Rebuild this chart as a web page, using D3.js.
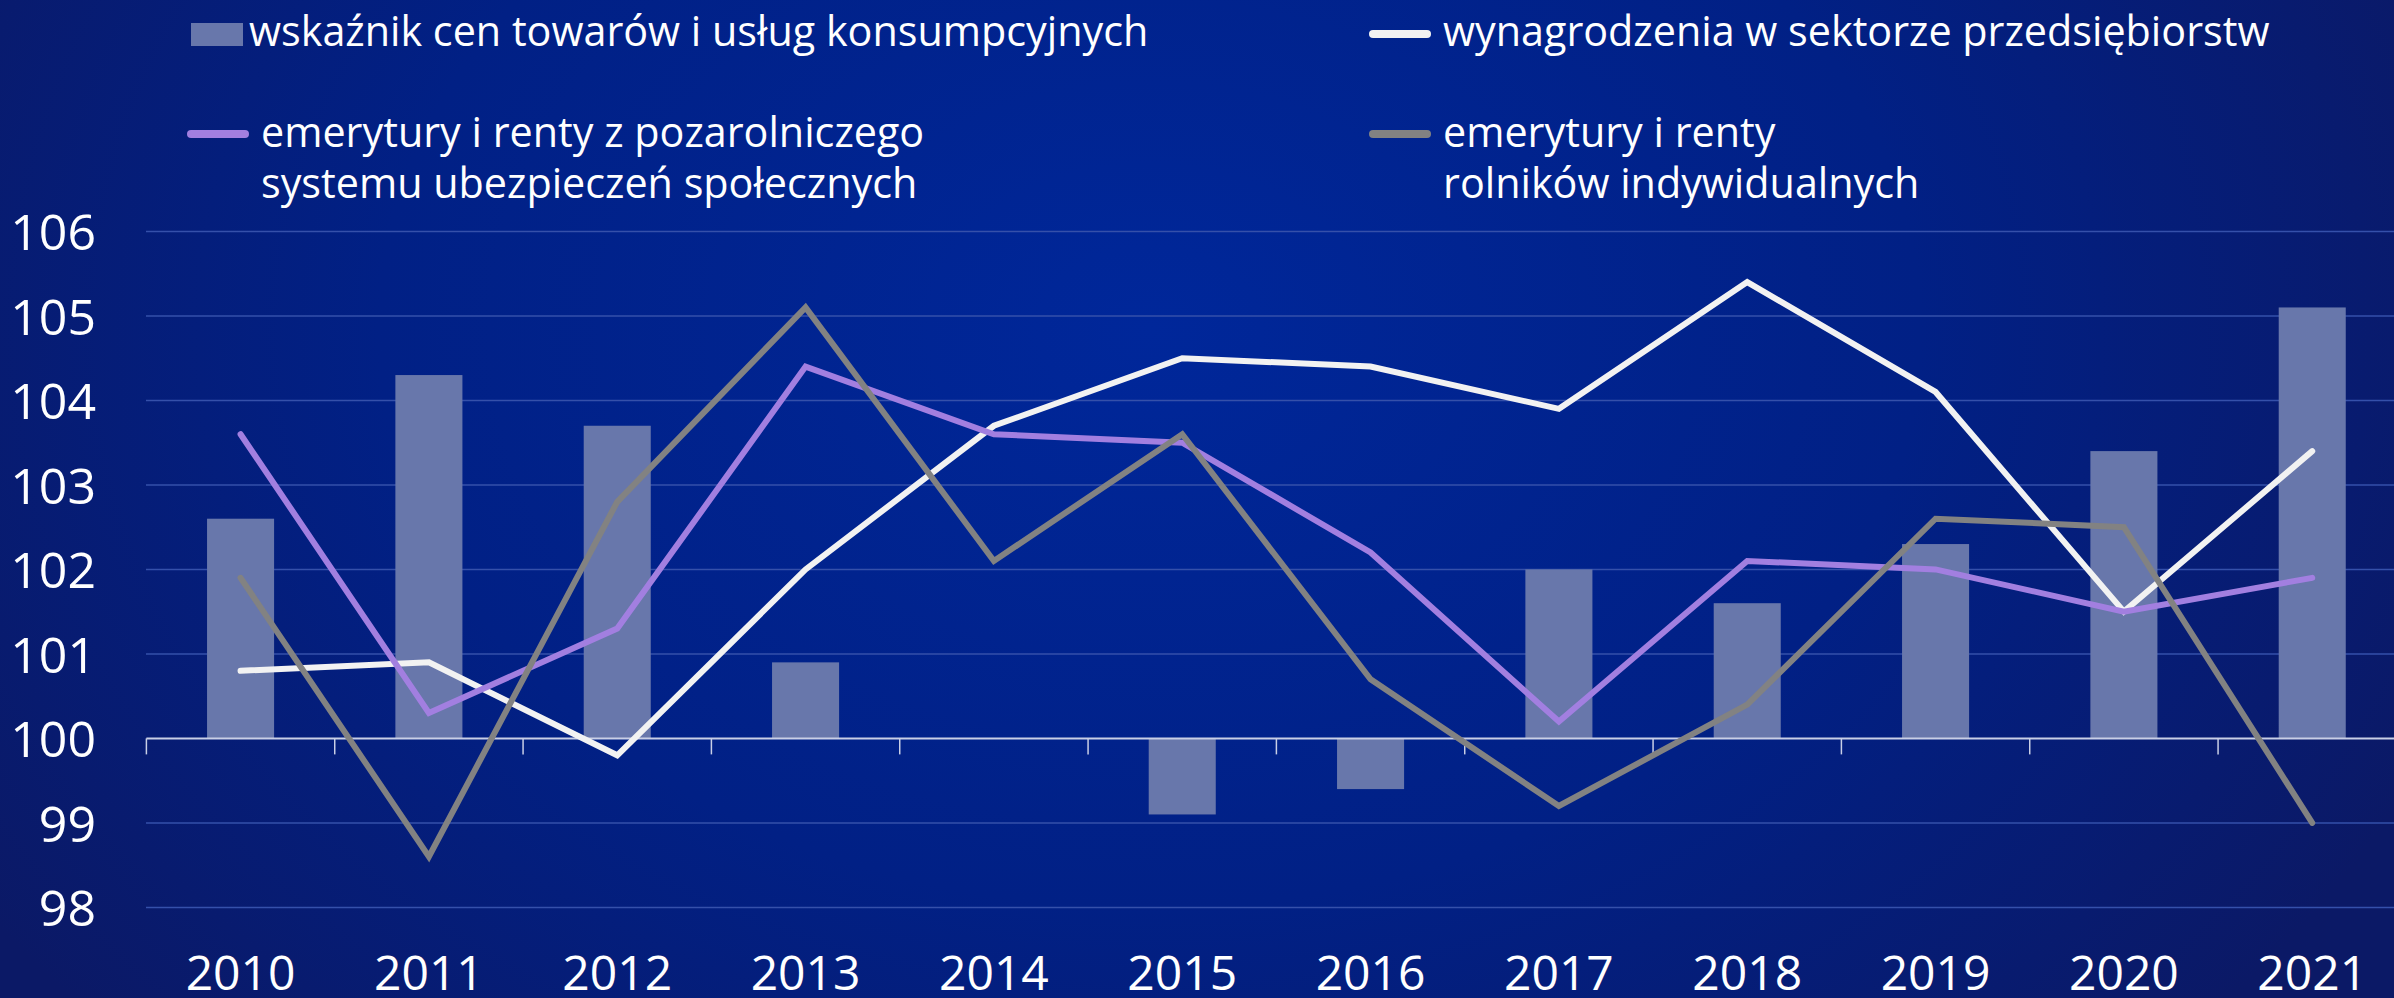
<!DOCTYPE html>
<html lang="pl">
<head>
<meta charset="utf-8">
<script src="https://cdn.jsdelivr.net/npm/d3@7/dist/d3.min.js"></script>
<style>
  html, body { margin: 0; padding: 0; background: #0a1a6c; }
  svg { display: block; }
  text { font-family: "Open Sans", "Noto Sans", sans-serif; fill: #ffffff; }
</style>
</head>
<body>
<svg id="chart"></svg>
<script>
"use strict";

// ── Data ──────────────────────────────────────────────────────────────────────
const years = ["2010", "2011", "2012", "2013", "2014", "2015", "2016", "2017", "2018", "2019", "2020", "2021"];
const cpi      = [102.6, 104.3, 103.7, 100.9, 100.0, 99.1, 99.4, 102.0, 101.6, 102.3, 103.4, 105.1];
const wages    = [100.8, 100.9, 99.8, 102.0, 103.7, 104.5, 104.4, 103.9, 105.4, 104.1, 101.5, 103.4];
const pensions = [103.6, 100.3, 101.3, 104.4, 103.6, 103.5, 102.2, 100.2, 102.1, 102.0, 101.5, 101.9];
const farmers  = [101.9, 98.6, 102.8, 105.1, 102.1, 103.6, 100.7, 99.2, 100.4, 102.6, 102.5, 99.0];
const yTicks   = [98, 99, 100, 101, 102, 103, 104, 105, 106];

const legendCpi      = ["wskaźnik cen towarów i usług konsumpcyjnych"];
const legendWages    = ["wynagrodzenia w sektorze przedsiębiorstw"];
const legendPensions = ["emerytury i renty z pozarolniczego", "systemu ubezpieczeń społecznych"];
const legendFarmers  = ["emerytury i renty", "rolników indywidualnych"];

const W = 2394, H = 998;
const BAR = "#6877ab";

const svg = d3.select("#chart").attr("width", W).attr("height", H);

// ── Background ──────────────────────────────────────────────────────────────
const defs = svg.append("defs");
const grad = defs.append("radialGradient")
  .attr("id", "bg").attr("gradientUnits", "userSpaceOnUse")
  .attr("cx", 1150).attr("cy", 330).attr("r", 1400)
  .attr("gradientTransform", "translate(1150,330) scale(1,0.75) translate(-1150,-330)");
grad.append("stop").attr("offset", "0%").attr("stop-color", "#00279a");
grad.append("stop").attr("offset", "55%").attr("stop-color", "#012085");
grad.append("stop").attr("offset", "100%").attr("stop-color", "#0b1966");
svg.append("rect").attr("width", W).attr("height", H).attr("fill", "url(#bg)");

// ── Scales ──────────────────────────────────────────────────────────────────
const x = d3.scaleBand().domain(years).range([146.4, 2406.4]);
const step = x.step();
const barW = step * 0.356;
const cx = d => x(d) + step / 2;

const y = d3.scaleLinear().domain([98, 106]).range([907.4, 231.4]);

// ── Grid ────────────────────────────────────────────────────────────────────
svg.append("g").selectAll("line")
  .data(yTicks.filter(t => t !== 100))
  .join("line")
  .attr("x1", 146).attr("x2", W)
  .attr("y1", d => y(d)).attr("y2", d => y(d))
  .attr("stroke", "#3550aa").attr("stroke-width", 1.5);

// y labels
svg.append("g").selectAll("text")
  .data(yTicks)
  .join("text")
  .attr("x", 96).attr("y", d => y(d))
  .attr("text-anchor", "end")
  .attr("dominant-baseline", "central")
  .attr("font-size", 50)
  .text(d => d);

// ── Bars ────────────────────────────────────────────────────────────────────
svg.append("g").selectAll("rect")
  .data(years.map((yr, i) => ({ yr, v: cpi[i] })))
  .join("rect")
  .attr("x", d => cx(d.yr) - barW / 2)
  .attr("width", barW)
  .attr("y", d => y(Math.max(d.v, 100)))
  .attr("height", d => Math.abs(y(d.v) - y(100)))
  .attr("fill", BAR);

// ── X axis ──────────────────────────────────────────────────────────────────
const axis = svg.append("g");
axis.append("line")
  .attr("x1", 146.4).attr("x2", W)
  .attr("y1", y(100)).attr("y2", y(100))
  .attr("stroke", "#c9cfe6").attr("stroke-width", 2);
axis.selectAll(".tick")
  .data(years)
  .join("line")
  .attr("class", "tick")
  .attr("x1", d => x(d)).attr("x2", d => x(d))
  .attr("y1", y(100)).attr("y2", y(100) + 16)
  .attr("stroke", "#c9cfe6").attr("stroke-width", 1.5);
axis.selectAll("text")
  .data(years)
  .join("text")
  .attr("x", d => cx(d)).attr("y", 990)
  .attr("text-anchor", "middle")
  .attr("font-size", 48)
  .text(d => d);

// ── Lines ───────────────────────────────────────────────────────────────────
const line = d3.line().x((d, i) => cx(years[i])).y(d => y(d));
const series = [
  { values: wages, color: "#f2f2f2" },
  { values: pensions, color: "#a27fe0" },
  { values: farmers, color: "#828282" }
];
svg.append("g").selectAll("path")
  .data(series)
  .join("path")
  .attr("d", d => line(d.values))
  .attr("fill", "none")
  .attr("stroke", d => d.color)
  .attr("stroke-width", 6)
  .attr("stroke-linecap", "round")
  .attr("stroke-linejoin", "miter");

// ── Legend ──────────────────────────────────────────────────────────────────
const leg = svg.append("g").attr("font-size", 41.3);

leg.append("rect").attr("x", 191).attr("y", 23).attr("width", 52).attr("height", 23).attr("fill", BAR);
leg.append("text").attr("x", 249).attr("y", 46).text(legendCpi[0]);

function legendLine(x0, yy, color, lines, tx) {
  leg.append("line")
    .attr("x1", x0).attr("x2", x0 + 54)
    .attr("y1", yy).attr("y2", yy)
    .attr("stroke", color).attr("stroke-width", 8).attr("stroke-linecap", "round");
  const t = leg.append("text").attr("x", tx).attr("y", lines.length > 1 ? 147 : 46);
  lines.forEach((s, i) => {
    t.append("tspan").attr("x", tx).attr("dy", i === 0 ? 0 : 51).text(s);
  });
}
legendLine(1373, 34, "#f2f2f2", legendWages, 1443);
legendLine(191, 134, "#a27fe0", legendPensions, 261);
legendLine(1373, 134, "#828282", legendFarmers, 1443);
</script>
</body>
</html>
